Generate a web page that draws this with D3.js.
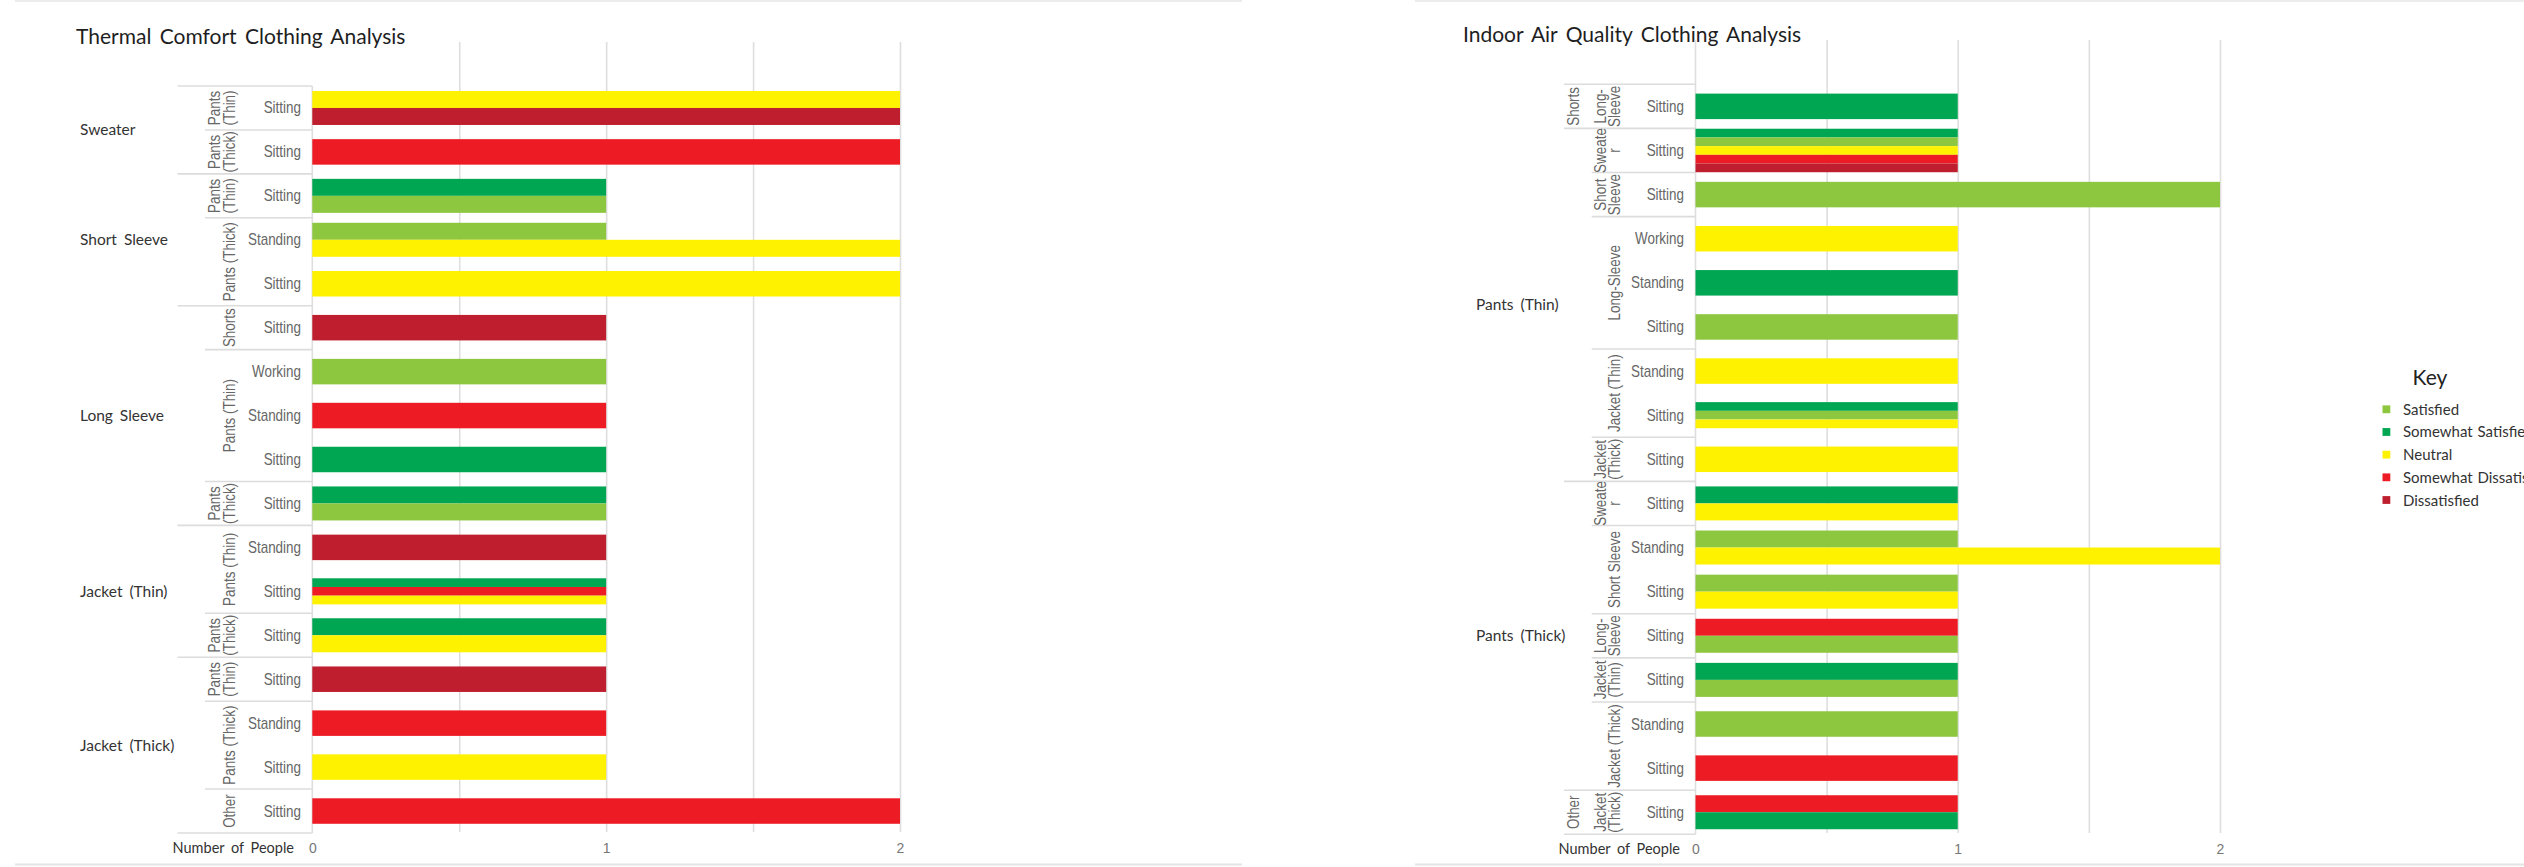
<!DOCTYPE html>
<html>
<head>
<meta charset="utf-8">
<script src="https://cdn.jsdelivr.net/npm/d3@7"></script>
<style>
  html, body { margin: 0; padding: 0; background: #ffffff; }
  svg { display: block; }
</style>
</head>
<body>
<svg id="chart" width="2524" height="867"></svg>
<script>
// ---------------- DATA ----------------
const satisfactionLevels = ["Satisfied", "Somewhat Satisfied", "Neutral", "Somewhat Dissatisfied", "Dissatisfied"];
const satisfactionColors = ["#8dc63f", "#00a651", "#fff200", "#ed1c24", "#be1e2d"];

const axisTicks = [0, 1, 2];
const gridTicks = [0.5, 1, 1.5, 2];
const axisTitle = "Number of People";

const thermalTitle = "Thermal Comfort Clothing Analysis";
// [upper garment, lower garment, activity, satisfaction, number of people]
const thermalBars = [
  ["Sweater", "Pants (Thin)", "Sitting", "Neutral", 2],
  ["Sweater", "Pants (Thin)", "Sitting", "Dissatisfied", 2],
  ["Sweater", "Pants (Thick)", "Sitting", "Somewhat Dissatisfied", 2],
  ["Short Sleeve", "Pants (Thin)", "Sitting", "Somewhat Satisfied", 1],
  ["Short Sleeve", "Pants (Thin)", "Sitting", "Satisfied", 1],
  ["Short Sleeve", "Pants (Thick)", "Standing", "Satisfied", 1],
  ["Short Sleeve", "Pants (Thick)", "Standing", "Neutral", 2],
  ["Short Sleeve", "Pants (Thick)", "Sitting", "Neutral", 2],
  ["Long Sleeve", "Shorts", "Sitting", "Dissatisfied", 1],
  ["Long Sleeve", "Pants (Thin)", "Working", "Satisfied", 1],
  ["Long Sleeve", "Pants (Thin)", "Standing", "Somewhat Dissatisfied", 1],
  ["Long Sleeve", "Pants (Thin)", "Sitting", "Somewhat Satisfied", 1],
  ["Long Sleeve", "Pants (Thick)", "Sitting", "Somewhat Satisfied", 1],
  ["Long Sleeve", "Pants (Thick)", "Sitting", "Satisfied", 1],
  ["Jacket (Thin)", "Pants (Thin)", "Standing", "Dissatisfied", 1],
  ["Jacket (Thin)", "Pants (Thin)", "Sitting", "Somewhat Satisfied", 1],
  ["Jacket (Thin)", "Pants (Thin)", "Sitting", "Somewhat Dissatisfied", 1],
  ["Jacket (Thin)", "Pants (Thin)", "Sitting", "Neutral", 1],
  ["Jacket (Thin)", "Pants (Thick)", "Sitting", "Somewhat Satisfied", 1],
  ["Jacket (Thin)", "Pants (Thick)", "Sitting", "Neutral", 1],
  ["Jacket (Thick)", "Pants (Thin)", "Sitting", "Dissatisfied", 1],
  ["Jacket (Thick)", "Pants (Thick)", "Standing", "Somewhat Dissatisfied", 1],
  ["Jacket (Thick)", "Pants (Thick)", "Sitting", "Neutral", 1],
  ["Jacket (Thick)", "Other", "Sitting", "Somewhat Dissatisfied", 2]
];

const airTitle = "Indoor Air Quality Clothing Analysis";
// [lower garment, upper garment, activity, satisfaction, number of people]
const airBars = [
  ["Shorts", "Long-Sleeve", "Sitting", "Somewhat Satisfied", 1],
  ["Pants (Thin)", "Sweater", "Sitting", "Somewhat Satisfied", 1],
  ["Pants (Thin)", "Sweater", "Sitting", "Satisfied", 1],
  ["Pants (Thin)", "Sweater", "Sitting", "Neutral", 1],
  ["Pants (Thin)", "Sweater", "Sitting", "Somewhat Dissatisfied", 1],
  ["Pants (Thin)", "Sweater", "Sitting", "Dissatisfied", 1],
  ["Pants (Thin)", "Short Sleeve", "Sitting", "Satisfied", 2],
  ["Pants (Thin)", "Long-Sleeve", "Working", "Neutral", 1],
  ["Pants (Thin)", "Long-Sleeve", "Standing", "Somewhat Satisfied", 1],
  ["Pants (Thin)", "Long-Sleeve", "Sitting", "Satisfied", 1],
  ["Pants (Thin)", "Jacket (Thin)", "Standing", "Neutral", 1],
  ["Pants (Thin)", "Jacket (Thin)", "Sitting", "Somewhat Satisfied", 1],
  ["Pants (Thin)", "Jacket (Thin)", "Sitting", "Satisfied", 1],
  ["Pants (Thin)", "Jacket (Thin)", "Sitting", "Neutral", 1],
  ["Pants (Thin)", "Jacket (Thick)", "Sitting", "Neutral", 1],
  ["Pants (Thick)", "Sweater", "Sitting", "Somewhat Satisfied", 1],
  ["Pants (Thick)", "Sweater", "Sitting", "Neutral", 1],
  ["Pants (Thick)", "Short Sleeve", "Standing", "Satisfied", 1],
  ["Pants (Thick)", "Short Sleeve", "Standing", "Neutral", 2],
  ["Pants (Thick)", "Short Sleeve", "Sitting", "Satisfied", 1],
  ["Pants (Thick)", "Short Sleeve", "Sitting", "Neutral", 1],
  ["Pants (Thick)", "Long-Sleeve", "Sitting", "Somewhat Dissatisfied", 1],
  ["Pants (Thick)", "Long-Sleeve", "Sitting", "Satisfied", 1],
  ["Pants (Thick)", "Jacket (Thin)", "Sitting", "Somewhat Satisfied", 1],
  ["Pants (Thick)", "Jacket (Thin)", "Sitting", "Satisfied", 1],
  ["Pants (Thick)", "Jacket (Thick)", "Standing", "Satisfied", 1],
  ["Pants (Thick)", "Jacket (Thick)", "Sitting", "Somewhat Dissatisfied", 1],
  ["Other", "Jacket (Thick)", "Sitting", "Somewhat Dissatisfied", 1],
  ["Other", "Jacket (Thick)", "Sitting", "Somewhat Satisfied", 1]
];

// how narrow header cells wrap their labels
const wrappedLabels = {
  "Pants (Thin)": ["Pants", "(Thin)"],
  "Pants (Thick)": ["Pants", "(Thick)"],
  "Long-Sleeve": ["Long-", "Sleeve"],
  "Sweater": ["Sweate", "r"],
  "Short Sleeve": ["Short", "Sleeve"],
  "Jacket (Thin)": ["Jacket", "(Thin)"],
  "Jacket (Thick)": ["Jacket", "(Thick)"]
};

// ---------------- DRAWING ----------------
const svg = d3.select("#chart");
const color = d3.scaleOrdinal().domain(satisfactionLevels).range(satisfactionColors);

const NARROW = "'Liberation Sans', Arial, Helvetica, sans-serif";
const HEAD = "Lato, 'Noto Sans', sans-serif";
const SQ = 0.84; // condensed text

// panel frames
const frames = [[15, 1242], [1415, 2524]];
frames.forEach(([a, b]) => {
  svg.append("line").attr("x1", a).attr("x2", b).attr("y1", 1).attr("y2", 1)
    .attr("stroke", "#ececec").attr("stroke-width", 2);
  svg.append("line").attr("x1", a).attr("x2", b).attr("y1", 864.5).attr("y2", 864.5)
    .attr("stroke", "#e4e4e4").attr("stroke-width", 2);
});

function barThickness(n) {
  return n === 1 ? 25.5 : (n === 2 ? 17 : 8.7);
}

function drawChart(cfg, title, bars) {
  const g = svg.append("g");
  const rows = [];
  const rowMap = new Map();
  bars.forEach(b => {
    const key = b[0] + "|" + b[1] + "|" + b[2];
    if (!rowMap.has(key)) {
      const r = { key, top: b[0], mid: b[1], act: b[2], items: [] };
      rowMap.set(key, r); rows.push(r);
    }
    rowMap.get(key).items.push({ level: b[3], value: b[4] });
  });

  const x = d3.scaleLinear().domain([0, 2]).range([cfg.x0, cfg.x2]);
  const y = d3.scaleBand().domain(rows.map(r => r.key)).range([cfg.rowTop, cfg.rowBottom]).padding(0);
  const bw = y.bandwidth();

  // title
  g.append("text").attr("x", cfg.titleX).attr("y", cfg.titleY)
    .attr("font-family", HEAD).attr("font-size", 21).attr("fill", "#1e1e1e")
    .attr("word-spacing", 3)
    .text(title);

  // gridlines
  const grid = g.append("g").attr("transform", `translate(0,${cfg.gridBottom})`)
    .call(d3.axisBottom(x).tickValues(gridTicks).tickSize(-(cfg.gridBottom - cfg.gridTop)).tickFormat(""));
  grid.select(".domain").remove();
  grid.selectAll(".tick line").attr("stroke", "#dedede").attr("stroke-width", 1.6);

  // zero line
  g.append("line").attr("x1", x(0)).attr("x2", x(0)).attr("y1", cfg.zeroTop).attr("y2", cfg.rowBottom)
    .attr("stroke", "#dedede").attr("stroke-width", 1.6);

  // separators
  const sep = (yy, xs) => g.append("line").attr("x1", xs).attr("x2", x(0)).attr("y1", yy).attr("y2", yy)
    .attr("stroke", "#dcdcdc").attr("stroke-width", 1.6);
  sep(cfg.rowTop, cfg.l1LineX);
  sep(cfg.rowBottom, cfg.l1LineX);
  rows.forEach((r, i) => {
    if (i === 0) return;
    const p = rows[i - 1];
    const yy = y(r.key);
    if (p.top !== r.top) sep(yy, cfg.l1LineX);
    else if (p.mid !== r.mid) sep(yy, cfg.l2LineX);
  });

  // bars
  rows.forEach(r => {
    const n = r.items.length;
    const t = barThickness(n);
    const start = y(r.key) + bw / 2 - (t * n) / 2;
    g.append("g").selectAll("rect").data(r.items).join("rect")
      .attr("x", x(0))
      .attr("y", (d, i) => start + i * t)
      .attr("width", d => x(d.value) - x(0))
      .attr("height", t)
      .attr("fill", d => color(d.level));
  });

  // activity labels
  rows.forEach(r => {
    g.append("text")
      .attr("transform", `translate(${cfg.l3RightX},${y(r.key) + bw / 2 + 5.5}) scale(${SQ},1)`)
      .attr("text-anchor", "end").attr("font-family", NARROW).attr("font-size", 16)
      .attr("fill", "#666").text(r.act);
  });

  // group helper
  function groups(keyFn) {
    const out = [];
    rows.forEach(r => {
      const k = keyFn(r);
      const last = out[out.length - 1];
      if (last && last.k === k) { last.rows.push(r); }
      else out.push({ k, rows: [r] });
    });
    return out;
  }

  // middle level labels (rotated)
  groups(r => r.top + "|" + r.mid).forEach(gr => {
    const label = gr.rows[0].mid;
    const cy = (y(gr.rows[0].key) + y(gr.rows[gr.rows.length - 1].key) + bw) / 2;
    const lines = (gr.rows.length === 1 && wrappedLabels[label]) ? wrappedLabels[label] : [label];
    lines.forEach((ln, i) => {
      const cx = lines.length === 1 ? cfg.l2SingleX : cfg.l2DoubleX[i];
      g.append("text")
        .attr("transform", `translate(${cx + 5.5},${cy}) rotate(-90) scale(${SQ},1)`)
        .attr("text-anchor", "middle").attr("font-family", NARROW).attr("font-size", 16)
        .attr("fill", "#666").text(ln);
    });
  });

  // top level labels
  groups(r => r.top).forEach(gr => {
    const label = gr.rows[0].top;
    const cy = (y(gr.rows[0].key) + y(gr.rows[gr.rows.length - 1].key) + bw) / 2;
    if (gr.rows.length === 1) {
      g.append("text")
        .attr("transform", `translate(${cfg.l1RotX + 5.5},${cy}) rotate(-90) scale(${SQ},1)`)
        .attr("text-anchor", "middle").attr("font-family", NARROW).attr("font-size", 16)
        .attr("fill", "#666").text(label);
    } else {
      g.append("text").attr("x", cfg.l1LabelX).attr("y", cy + 5.5)
        .attr("font-family", HEAD).attr("font-size", 15.5).attr("fill", "#333")
        .attr("word-spacing", 3).text(label);
    }
  });

  // axis tick labels
  const ax = g.append("g").attr("transform", `translate(0,${cfg.axisY})`)
    .call(d3.axisBottom(x).tickValues(axisTicks).tickSize(0).tickPadding(0).tickFormat(d3.format("d")));
  ax.select(".domain").remove();
  ax.selectAll(".tick text")
    .attr("font-family", NARROW).attr("font-size", 14).attr("fill", "#777")
    .attr("dy", 0).attr("y", 5);

  g.append("text").attr("x", cfg.nopRightX).attr("y", cfg.axisY + 5)
    .attr("text-anchor", "end").attr("font-family", HEAD).attr("font-size", 14.5)
    .attr("fill", "#333").attr("word-spacing", 3).text(axisTitle);
}

drawChart({
  titleX: 76, titleY: 44,
  x0: 312.3, x2: 900,
  gridTop: 42, gridBottom: 832, zeroTop: 86,
  rowTop: 86, rowBottom: 833,
  l1LabelX: 80, l1LineX: 177.5, l2LineX: 205,
  l2SingleX: 229.5, l2DoubleX: [214, 229.5], l1RotX: 190,
  l3RightX: 301, nopRightX: 294, axisY: 848
}, thermalTitle, thermalBars);

drawChart({
  titleX: 1463, titleY: 42,
  x0: 1695.5, x2: 2220,
  gridTop: 40, gridBottom: 833, zeroTop: 40,
  rowTop: 84.3, rowBottom: 834.3,
  l1LabelX: 1476, l1LineX: 1564, l2LineX: 1591.7,
  l2SingleX: 1614.5, l2DoubleX: [1600, 1614.5], l1RotX: 1573.3,
  l3RightX: 1684, nopRightX: 1680, axisY: 848.5
}, airTitle, airBars);

// legend
const legend = svg.append("g");
legend.append("text").attr("x", 2430).attr("y", 385).attr("text-anchor", "middle")
  .attr("font-family", HEAD).attr("font-size", 21).attr("fill", "#222").text("Key");
const legendY = d3.scalePoint().domain(satisfactionLevels).range([409.3, 500]);
legend.selectAll("rect").data(satisfactionLevels).join("rect")
  .attr("x", 2382.5).attr("y", d => legendY(d) - 3.9).attr("width", 7.8).attr("height", 7.8)
  .attr("fill", d => color(d));
legend.selectAll("text.item").data(satisfactionLevels).join("text").attr("class", "item")
  .attr("x", 2403).attr("y", d => legendY(d) + 5.5)
  .attr("font-family", HEAD).attr("font-size", 15).attr("fill", "#333")
  .attr("word-spacing", 1).text(d => d);
</script>
</body>
</html>
